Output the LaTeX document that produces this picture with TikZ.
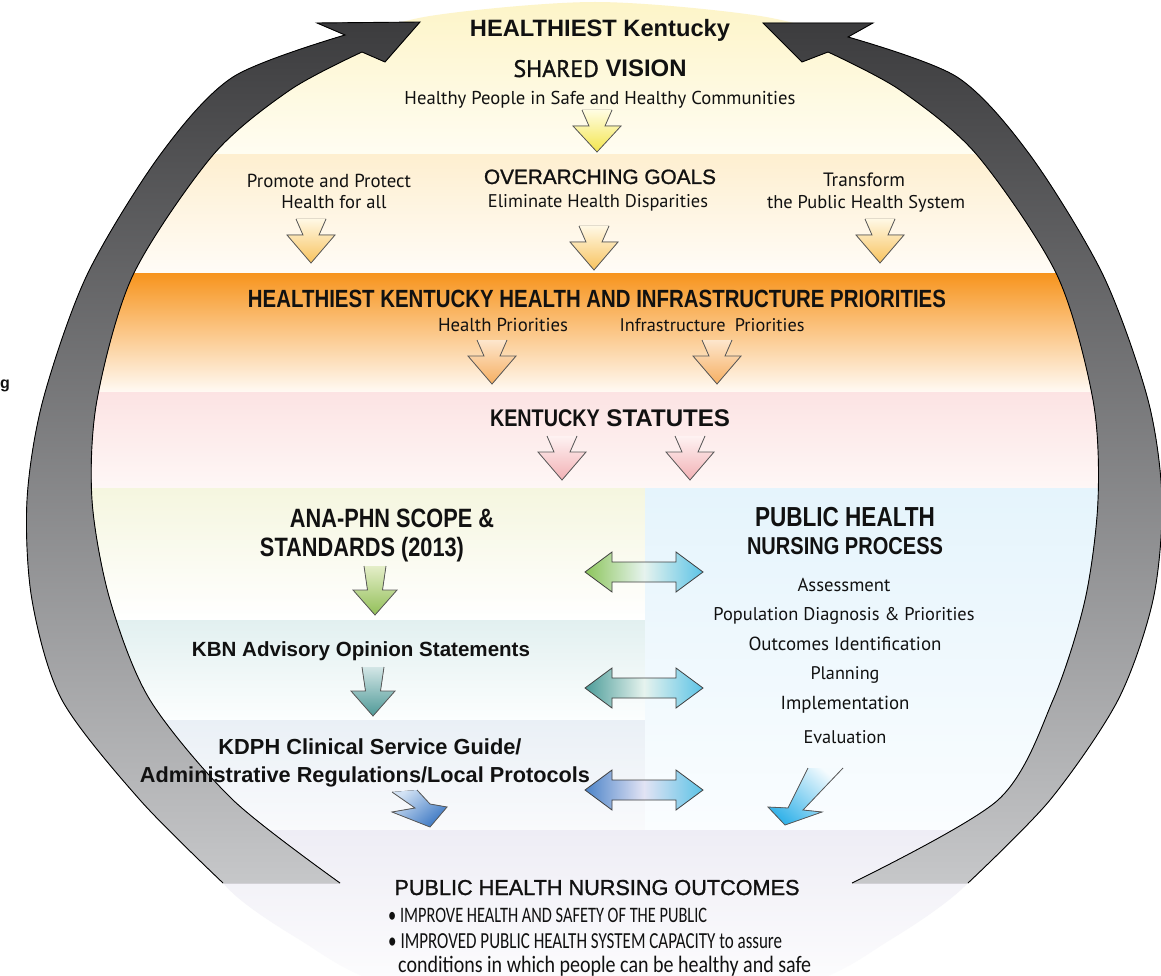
\documentclass[tikz,border=0pt]{standalone}
\usepackage{fontspec}
\usepackage{graphicx}
\setmainfont{Liberation Sans}
\newfontfamily\narrowf{Liberation Sans}[FakeStretch=0.82]
\newfontfamily\medf{Liberation Sans}[FakeBold=1.2]
\newfontfamily\gillf{PT Sans}
\newfontfamily\gillm{PT Sans}[FakeBold=1.2]
\newfontfamily\calf{Carlito}[FakeStretch=0.85]
\newfontfamily\calc{Carlito}[FakeStretch=0.74]
\newcommand\tw[2]{\resizebox{#1pt}{!}{#2}}
% band colours
\definecolor{bAt}{HTML}{FDF4C6}\definecolor{bAb}{HTML}{FFFDF2}
\definecolor{bBt}{HTML}{FEEFD0}\definecolor{bBb}{HTML}{FFFCF7}
\definecolor{bCt}{HTML}{F7941D}\definecolor{bCb}{HTML}{FFFAF4}
\definecolor{bDt}{HTML}{FCE3E3}\definecolor{bDb}{HTML}{FEF7F6}
\definecolor{bEt}{HTML}{F5F6DF}\definecolor{bEb}{HTML}{FFFFFF}
\definecolor{bFt}{HTML}{E2F0F0}\definecolor{bFb}{HTML}{FCFEFE}
\definecolor{bGt}{HTML}{EAF0F6}\definecolor{bGb}{HTML}{F9FAFC}
\definecolor{bRt}{HTML}{E5F4FC}\definecolor{bRb}{HTML}{FAFDFF}
\definecolor{bHt}{HTML}{EEEDF5}\definecolor{bHb}{HTML}{FFFFFF}
% arrows
\definecolor{grT}{HTML}{3C3C3E}\definecolor{grB}{HTML}{C6C7C9}
\definecolor{yeT}{HTML}{FFFDE2}\definecolor{yeB}{HTML}{F3E54C}
\definecolor{goT}{HTML}{FFF8E4}\definecolor{goB}{HTML}{F8C35E}
\definecolor{prT}{HTML}{FDE6CC}\definecolor{prB}{HTML}{F6AF62}
\definecolor{piT}{HTML}{FEF2F2}\definecolor{piB}{HTML}{F2B1B5}
\definecolor{gnT}{HTML}{E4EEC8}\definecolor{gnB}{HTML}{92BF58}
\definecolor{tlT}{HTML}{D3E6E6}\definecolor{tlB}{HTML}{4E9997}
\definecolor{blT}{HTML}{D2E2F4}\definecolor{blB}{HTML}{3B77C3}
\definecolor{cyT}{HTML}{F5FBFE}\definecolor{cyB}{HTML}{35B3E9}
\definecolor{dGn}{HTML}{8CC55B}\definecolor{dTl}{HTML}{4C9C99}
\definecolor{dBl}{HTML}{4B83C8}\definecolor{dCy}{HTML}{5CC3E6}
\definecolor{dM1}{HTML}{E6F3EE}\definecolor{dM3}{HTML}{E2E3F4}
\definecolor{ink}{HTML}{111111}
\tikzset{
  txt/.style={inner sep=0pt, anchor=base, text=ink},
  txtw/.style={inner sep=0pt, anchor=base west, text=ink},
  arrline/.style={draw=black!65, line width=0.8pt, line join=miter},
  grayline/.style={draw=black, line width=0.9pt, line join=miter},
}
\def\aA{15}\def\aB{8}\def\aW{24}\def\aS{16}\def\aH{28}
\newcommand\darr[4]{%
  \fill[top color=#3, bottom color=#4] ({#1-\aA},#2) -- ({#1-\aB},{#2+\aS}) -- ({#1-\aW},{#2+\aS}) -- (#1,{#2+\aS+\aH}) -- ({#1+\aW},{#2+\aS}) -- ({#1+\aB},{#2+\aS}) -- ({#1+\aA},#2) -- cycle;
  \draw[arrline] ({#1-\aA},#2) -- ({#1-\aB},{#2+\aS}) -- ({#1-\aW},{#2+\aS}) -- (#1,{#2+\aS+\aH}) -- ({#1+\aW},{#2+\aS}) -- ({#1+\aB},{#2+\aS}) -- ({#1+\aA},#2);}
\newcommand\dbl[4]{%
  \draw[arrline, draw=black!75, left color=#2, right color=#4, middle color=#3] (585,#1) -- (612,{#1-20}) -- (612,{#1-10}) -- (676,{#1-10}) -- (676,{#1-20}) -- (703,#1) -- (676,{#1+20}) -- (676,{#1+10}) -- (612,{#1+10}) -- (612,{#1+20}) -- cycle;}
\def\LArrow{plot[smooth] coordinates {(223,883) (140,800) (62,700) (32,600) (27,500) (43,400) (87,275) (160,155) (233,77) (345,35)} -- (317,23) -- (420,22) -- (385,62) -- plot[smooth] coordinates {(362,52) (290,90) (213,155) (133,275) (97,400) (92,500) (110,600) (150,700) (233,800) (340,883)}}
\def\RArrow{plot[smooth] coordinates {(968,883) (1050,800) (1118,700) (1153,600) (1162,500) (1148,400) (1103,275) (1030,155) (957,77) (848,37)} -- (873,23) -- (763,23) -- (802,62) -- plot[smooth] coordinates {(828,52) (900,90) (977,155) (1057,275) (1093,400) (1098,500) (1085,600) (1053,700) (998,800) (852,883)}}
\begin{document}
\begin{tikzpicture}[x=1pt,y=-1pt]
\useasboundingbox (0,0) rectangle (1161,976);
\fill[white] (0,0) rectangle (1161,976);
% background dome (edge hidden under the gray arrows)
\begin{scope}
\clip plot[smooth cycle] coordinates {(595,2) (760,16) (850,42) (930,85) (1003,155) (1080,275) (1120,400) (1130,500) (1119,600) (1085,700) (1024,800) (968,883) (890,940) (800,985) (595,1010) (390,985) (300,940) (223,883) (187,800) (106,700) (71,600) (60,500) (70,400) (110,275) (187,155) (262,83) (345,42) (430,16)};
\shade[top color=bAt, bottom color=bAb] (0,-5) rectangle (1161,155);
\shade[top color=bBt, bottom color=bBb] (0,155) rectangle (1161,273);
\shade[top color=bCt, bottom color=bCb] (0,273) rectangle (1161,392);
\shade[top color=bDt, bottom color=bDb] (0,392) rectangle (1161,488);
\shade[top color=bEt, bottom color=bEb] (0,488) rectangle (645,620);
\shade[top color=bFt, bottom color=bFb] (0,620) rectangle (645,720);
\shade[top color=bGt, bottom color=bGb] (0,720) rectangle (645,830);
\shade[top color=bRt, bottom color=bRb] (645,488) rectangle (1161,830);
\shade[top color=bHt, bottom color=bHb] (0,830) rectangle (1161,1010);
\end{scope}
% big gray cycle arrows
\fill[top color=grT, bottom color=grB] \LArrow -- cycle;
\draw[grayline] \LArrow;
\fill[top color=grT, bottom color=grB] \RArrow -- cycle;
\draw[grayline] \RArrow;
% small down arrows
\def\aH{26}
\darr{597}{110}{yeT}{yeB}
\def\aH{28}
\darr{311}{219}{goT}{goB}
\darr{594}{226}{goT}{goB}
\darr{880}{219}{goT}{goB}
\darr{492}{340}{prT}{prB}
\darr{717}{340}{prT}{prB}
\darr{562}{436}{piT}{piB}
\darr{690}{436}{piT}{piB}
\def\aA{11}\def\aB{7.5}\def\aW{22}\def\aS{24}\def\aH{25}
\darr{375}{566}{gnT}{gnB}
\darr{373}{667}{tlT}{tlB}
% diagonal arrows
\fill[top color=blT, bottom color=blB, shading angle=40] (417,790) -- (430,804) -- (447,807) -- (430,827) -- (392,812) -- (415,808) -- (392,792) -- cycle;
\draw[arrline] (417,790) -- (430,804) -- (447,807) -- (430,827) -- (392,812) -- (415,808) -- (392,792);
\fill[top color=cyT, bottom color=cyB, shading angle=-40] (843,768) -- (803,810) -- (822,812) -- (785,825) -- (768,807) -- (788,808) -- (808,768) -- cycle;
\draw[arrline] (843,768) -- (803,810) -- (822,812) -- (785,825) -- (768,807) -- (788,808) -- (808,768);
% double arrows
\dbl{572}{dGn}{dM1}{dCy}
\dbl{688}{dTl}{dM1}{dCy}
\dbl{790}{dBl}{dM3}{dCy}
% texts
\node[txtw] (gmark) at (0,388) {\fontsize{16}{16}\selectfont\bfseries g};
\node[txt] (title) at (600,37) {\tw{260}{\bfseries HEALTHIEST Kentucky}};
\node[txt] (vision) at (600,77) {\tw{173}{{\gillm SHARED} {\bfseries VISION}}};
\node[txt] (visiontxt) at (600,105) {\tw{391}{\gillf Healthy People in Safe and Healthy Communities}};
\node[txt] (promote1) at (329,188) {\tw{164}{\gillf Promote and Protect}};
\node[txt] (promote2) at (334,209) {\tw{105}{\gillf Health for all}};
\node[txt] (goals) at (600,184) {\tw{232}{\medf OVERARCHING GOALS}};
\node[txt] (elim) at (598,208) {\tw{220}{\gillf Eliminate Health Disparities}};
\node[txt] (transf1) at (864,187) {\tw{82}{\gillf Transform}};
\node[txt] (transf2) at (866,209) {\tw{198}{\gillf the Public Health System}};
\node[txt] (prio) at (597,307) {\tw{698}{\narrowf\bfseries HEALTHIEST KENTUCKY HEALTH AND INFRASTRUCTURE PRIORITIES}};
\node[txt] (hprio) at (503,331) {\tw{130}{\gillf Health Priorities}};
\node[txt] (iprio) at (712,331) {\tw{185}{\gillf Infrastructure\hspace{0.5em}Priorities}};
\node[txt] (statutes) at (610,426) {\tw{240}{{\narrowf\bfseries KENTUCKY} {\bfseries STATUTES}}};
\node[txt] (ana1) at (392,527) {\tw{204}{\narrowf\bfseries ANA-PHN SCOPE \&}};
\node[txt] (ana2) at (362,556) {\tw{204}{\narrowf\bfseries STANDARDS (2013)}};
\node[txt] (phn1) at (845,526) {\tw{180}{\narrowf\bfseries PUBLIC HEALTH}};
\node[txt] (phn2) at (845,554) {\tw{196}{\narrowf\bfseries NURSING PROCESS}};
\node[txt] (p1) at (844,591) {\tw{93}{\gillf Assessment}};
\node[txt] (p2) at (844,620) {\tw{261}{\gillf Population Diagnosis \& Priorities}};
\node[txt] (p3) at (845,650) {\tw{193}{\gillf Outcomes Identification}};
\node[txt] (p4) at (845,679) {\tw{69}{\gillf Planning}};
\node[txt] (p5) at (845,709) {\tw{129}{\gillf Implementation}};
\node[txt] (p6) at (845,743) {\tw{83}{\gillf Evaluation}};
\node[txt] (kbn) at (361,656) {\tw{338}{\bfseries KBN Advisory Opinion Statements}};
\node[txt] (kdph1) at (370,754) {\tw{303}{\bfseries KDPH Clinical Service Guide/}};
\node[txt] (kdph2) at (365,782) {\tw{450}{\bfseries Administrative Regulations/Local Protocols}};
\node[txt] (outc) at (597,895) {\tw{405}{\medf PUBLIC HEALTH NURSING OUTCOMES}};
\node[txtw] (b1) at (388,922) {\tw{319}{\calc • IMPROVE HEALTH AND SAFETY OF THE PUBLIC}};
\node[txtw] (b2) at (388,948) {\tw{394}{\calc • IMPROVED PUBLIC HEALTH SYSTEM CAPACITY to assure}};
\node[txtw] (b3) at (398,972) {\tw{413}{\calf conditions in which people can be healthy and safe}};
\end{tikzpicture}
\end{document}
